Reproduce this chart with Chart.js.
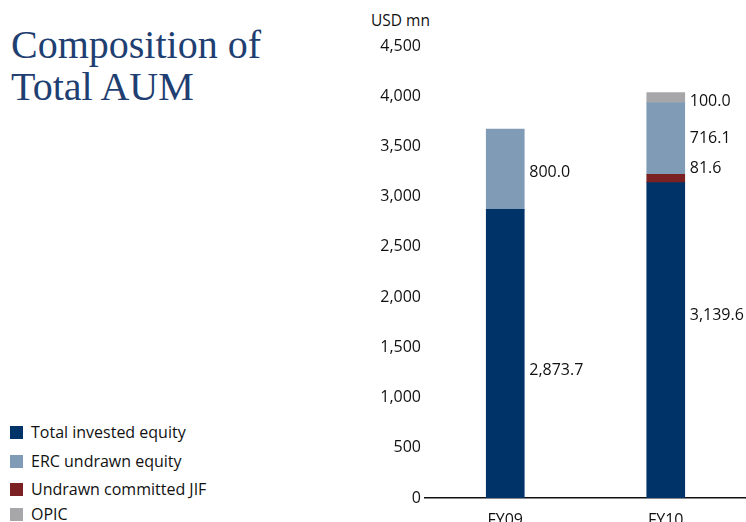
<!DOCTYPE html>
<html>
<head>
  <title>Composition of Total AUM</title>
  <script src="https://cdn.jsdelivr.net/npm/chart.js"></script>
</head>
<style>
  body { margin: 0; width: 746px; height: 522px; overflow: hidden; background: #fff; position: relative; font-family: "Open Sans", sans-serif; }
  .title { position: absolute; left: 11px; top: 24px; font-family: "Liberation Serif", serif; font-size: 40px; line-height: 42px; color: #1f3f72; }
  .unit { position: absolute; left: 371px; top: 9px; font-size: 15.5px; color: #111; }
  .legend { position: absolute; left: 10px; top: 421px; font-size: 16px; color: #111; }
  .legend div { height: 28.5px; display: flex; align-items: flex-start; }
  .legend div:nth-child(3) { height: 25px; }
  .legend span.box { width: 13px; height: 13px; margin-top: 5px; margin-right: 8px; }
  .chart-container { position: absolute; left: 360px; top: 0; width: 386px; height: 522px; }
</style>
<body>
  <div class="title">Composition of<br>Total AUM</div>
  <div class="unit">USD mn</div>
  <div class="legend" id="legend"></div>
  <div class="chart-container">
    <canvas id="chart"></canvas>
  </div>

  <script>
    const years = ["FY09", "FY10"];
    const investedEquity = [2873.7, 3139.6];
    const ercUndrawn = [800.0, 716.1];
    const undrawnJIF = [null, 81.6];
    const opic = [null, 100.0];

    const seriesNames = ["Total invested equity", "ERC undrawn equity", "Undrawn committed JIF", "OPIC"];
    const seriesColors = ["#003468", "#7f9bb6", "#7c2123", "#a7a7aa"];

    // legend on the left, built by hand
    const legend = document.getElementById("legend");
    seriesNames.forEach((name, i) => {
      const row = document.createElement("div");
      row.innerHTML = '<span class="box" style="background:' + seriesColors[i] + '"></span>' + name;
      legend.appendChild(row);
    });

    // stacking order bottom to top: invested, JIF, ERC, OPIC
    const stackOrder = [0, 2, 1, 3];
    const seriesData = [investedEquity, ercUndrawn, undrawnJIF, opic];

    // small nudges (px) so labels don't crowd each other, per series / year
    const labelNudge = [[17, -25], [3, 0], [0, -10], [0, 4]];

    const valueLabels = {
      id: "valueLabels",
      afterDatasetsDraw(chart) {
        const ctx = chart.ctx;
        ctx.save();
        ctx.font = "16px 'Open Sans', sans-serif";
        ctx.fillStyle = "#111";
        ctx.textAlign = "left";
        ctx.textBaseline = "middle";
        chart.data.datasets.forEach((ds, i) => {
          const nudge = labelNudge[ds.series];
          chart.getDatasetMeta(i).data.forEach((bar, j) => {
            const v = ds.data[j];
            if (v == null) return;
            const y = (bar.y + bar.base) / 2 + nudge[j];
            ctx.fillText(v.toLocaleString("en-US", { minimumFractionDigits: 1, maximumFractionDigits: 1 }), bar.x + bar.width / 2 + 5, y);
          });
        });
        ctx.restore();
      }
    };

    const datasets = stackOrder.map((i) => ({
      label: seriesNames[i],
      series: i,
      data: seriesData[i],
      backgroundColor: seriesColors[i],
      barThickness: 38,
    }));

    new Chart("chart", {
      type: "bar",
      data: { labels: years, datasets: datasets },
      plugins: [valueLabels],
      options: {
        responsive: true,
        maintainAspectRatio: false,
        animation: false,
        layout: { padding: { top: 46, right: 0, left: 0, bottom: 0 } },
        plugins: { legend: { display: false }, tooltip: { enabled: false } },
        scales: {
          x: {
            stacked: true,
            grid: { display: false, drawTicks: false },
            border: { display: true, color: "#111", width: 1.5 },
            ticks: { color: "#111", font: { family: "'Open Sans', sans-serif", size: 16 }, padding: 13 },
            afterFit: (s) => { s.height = 24; },
          },
          y: {
            stacked: true,
            min: 0,
            max: 4500,
            grid: { display: false, drawTicks: false },
            border: { display: false },
            ticks: {
              stepSize: 500,
              color: "#111",
              font: { family: "'Open Sans', sans-serif", size: 16 },
              padding: 4,
              callback: (v) => v.toLocaleString("en-US"),
            },
            afterFit: (s) => { s.width = 65; },
          },
        },
      },
    });
  </script>
</body>
</html>
